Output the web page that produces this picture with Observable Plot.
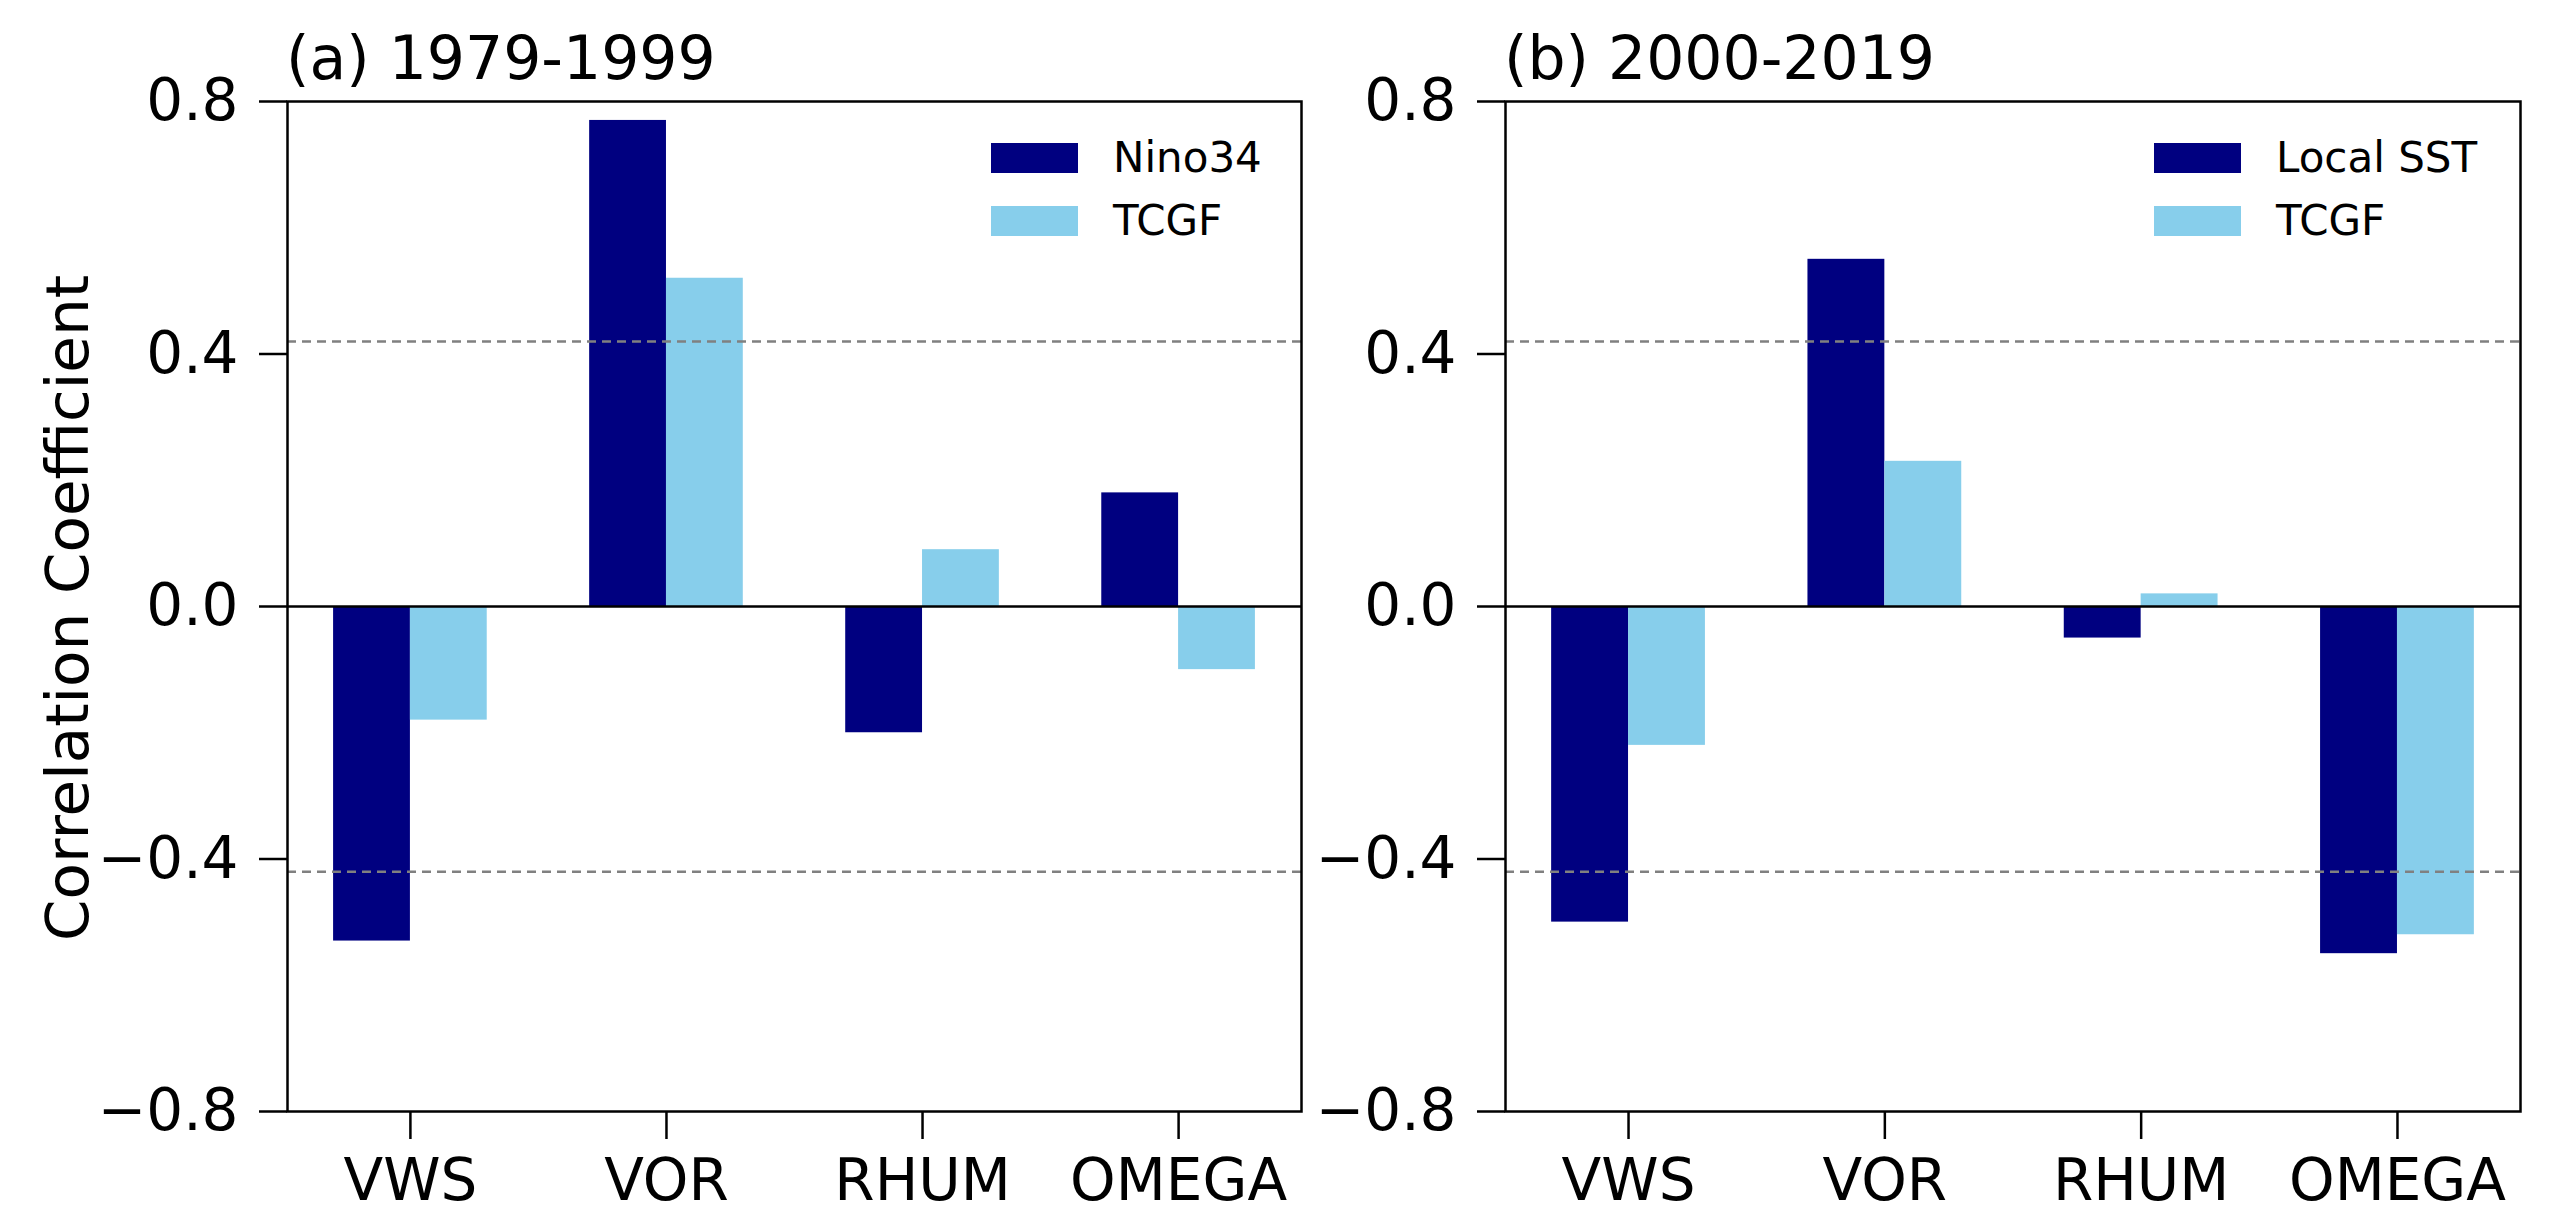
<!DOCTYPE html>
<html><head><meta charset="utf-8">
<script src="https://cdn.jsdelivr.net/npm/d3@7"></script>
<script src="https://cdn.jsdelivr.net/npm/@observablehq/plot@0.6"></script>
<style>
html,body{margin:0;padding:0;background:#fff;}
#wrap{position:relative;width:2554px;height:1225px;font-family:"DejaVu Sans",sans-serif;overflow:hidden;background:#fff;}
.panel{position:absolute;top:0;}
#overlay{position:absolute;left:0;top:0;pointer-events:none;}
</style></head><body><div id="wrap"></div>
<script>
const categories = ["VWS", "VOR", "RHUM", "OMEGA"];
const seriesA = ["Nino34", "TCGF"];
const nino34A = [-0.53, 0.77, -0.20, 0.18];
const tcgfA = [-0.18, 0.52, 0.09, -0.10];
const seriesB = ["Local SST", "TCGF"];
const localSstB = [-0.50, 0.55, -0.05, -0.55];
const tcgfB = [-0.22, 0.23, 0.02, -0.52];
const yTicks = [-0.8, -0.4, 0, 0.4, 0.8];
const threshold = 0.42;
const titles = ["(a) 1979-1999", "(b) 2000-2019"];
const yLabel = "Correlation Coefficient";
const colors = ["#000080", "#87CEEB"];

function panel(series, v1, v2, width, ml, mr) {
  const data = [];
  categories.forEach((c, i) => {
    data.push({cat: c, i, k: 0, series: series[0], value: v1[i]});
    data.push({cat: c, i, k: 1, series: series[1], value: v2[i]});
  });
  return Plot.plot({
    width, height: 1225,
    marginLeft: ml, marginRight: mr, marginTop: 101, marginBottom: 114,
    style: {fontFamily: "DejaVu Sans", background: "transparent", overflow: "visible", color: "black"},
    x: {domain: [-0.48, 3.48]},
    y: {domain: [-0.8, 0.8]},
    color: {domain: series, range: colors},
    marks: [
      Plot.rectY(data, {
        x1: d => d.i - (d.k === 0 ? 0.3 : 0),
        x2: d => d.i + (d.k === 0 ? 0 : 0.3),
        y1: 0, y2: "value", fill: "series"
      }),
      Plot.ruleY([threshold, -threshold], {stroke: "#808080", strokeWidth: 2.5, strokeDasharray: "9,6"}),
      Plot.ruleY([0], {stroke: "black", strokeWidth: 2.5}),
      Plot.axisY({ticks: yTicks, tickFormat: d => d.toFixed(1).replace("-", "\u2212"),
        tickSize: 28, tickPadding: 21, fontSize: 58, strokeWidth: 2.5, label: null}),
      Plot.axisX({ticks: [0, 1, 2, 3], tickFormat: i => categories[i],
        tickSize: 28, tickPadding: 19, fontSize: 58, strokeWidth: 2.5, label: null}),
      Plot.frame({stroke: "black", strokeWidth: 2.5})
    ]
  });
}

const wrap = document.getElementById("wrap");
const p1 = panel(seriesA, nino34A, tcgfA, 1320, 287, 19);
p1.classList.add("panel"); p1.style.left = "0px";
wrap.appendChild(p1);
const p2 = panel(seriesB, localSstB, tcgfB, 1234, 185, 34);
p2.classList.add("panel"); p2.style.left = "1320px";
wrap.appendChild(p2);

// overlay: titles, y label, legends
const svg = d3.select(wrap).append("svg").attr("id", "overlay")
  .attr("width", 2554).attr("height", 1225)
  .style("font-family", "DejaVu Sans");
svg.append("text").attr("x", 286).attr("y", 79).attr("font-size", 60).text(titles[0]);
svg.append("text").attr("x", 1504).attr("y", 79).attr("font-size", 60).text(titles[1]);
svg.append("text").attr("transform", "translate(88,608) rotate(-90)")
  .attr("text-anchor", "middle").attr("font-size", 59.5).text(yLabel);

function legend(series, px, tx) {
  series.forEach((s, k) => {
    const y0 = 143 + k * 63;
    svg.append("rect").attr("x", px).attr("y", y0).attr("width", 87).attr("height", 30).attr("fill", colors[k]);
    svg.append("text").attr("x", tx).attr("y", y0 + 29).attr("font-size", 42).text(s);
  });
}
legend(seriesA, 991, 1113);
legend(seriesB, 2154, 2276);
</script></body></html>
